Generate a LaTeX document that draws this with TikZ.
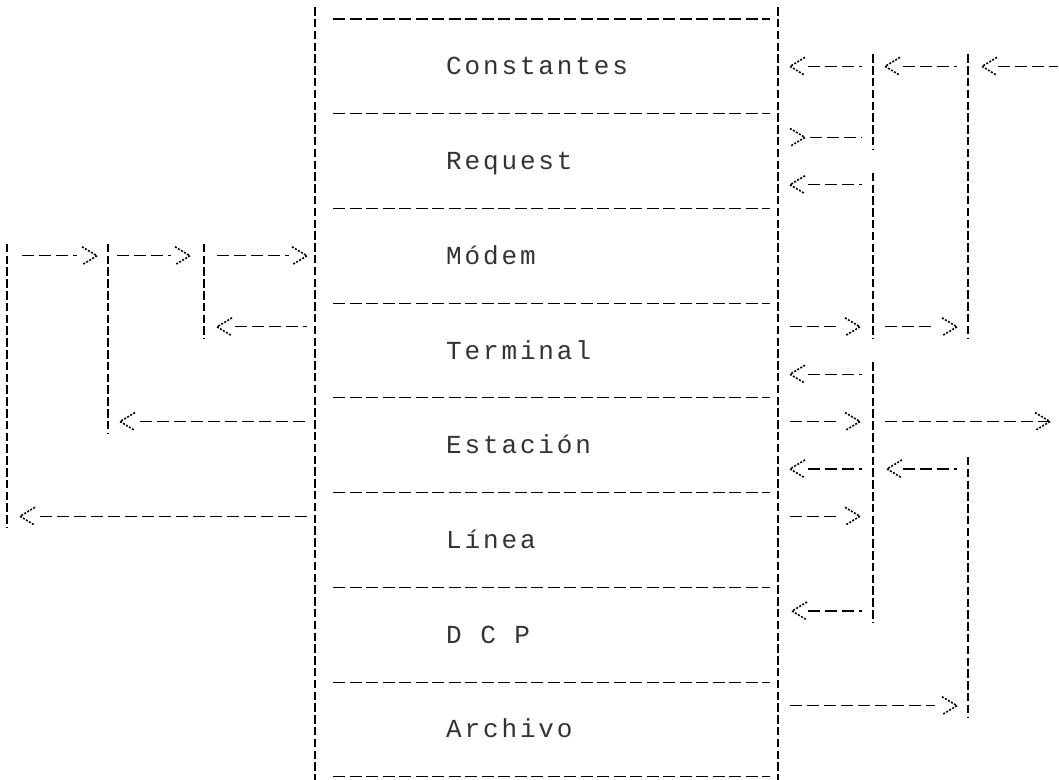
\documentclass[tikz,border=0pt]{standalone}
\usepackage{fontspec}
\newfontfamily\dotmatrix[LetterSpace=11]{Liberation Mono}
\begin{document}
\begin{tikzpicture}[x=1pt,y=-23.68pt,
  vline/.style={line width=1.7pt,dash pattern=on 8.5pt off 3.3pt},
  hsep/.style={line width=1.1pt,dash pattern=on 12pt off 4.5pt},
  shaft/.style={line width=1.3pt,dash pattern=on 12pt off 5pt},
  lshaft/.style={shaft,shorten <=30pt,shorten >=11pt},
  rshaft/.style={shaft,shorten <=12pt,shorten >=33pt},
  chevline/.style={line width=1.6pt,dash pattern=on 2pt off 1.5pt},
  lchev/.pic={\draw[chevline] (15pt,9pt) -- (0,0) -- (15pt,-9pt);},
  rchev/.pic={\draw[chevline] (-15pt,9pt) -- (0,0) -- (-15pt,-9pt);},
  lbl/.style={anchor=base west,inner sep=0pt,text=black!80,
    font=\dotmatrix\fontsize{26}{30}\selectfont}]
\useasboundingbox (0,-0.8024) rectangle (1059,32.095);

% named points on every column, one per printed line
\foreach \L in {0,...,32}{
  \coordinate (a-\L) at (7,\L);
  \coordinate (b-\L) at (108,\L);
  \coordinate (c-\L) at (204,\L);
  \coordinate (bl-\L) at (315,\L);
  \coordinate (br-\L) at (778,\L);
  \coordinate (c2-\L) at (873,\L);
  \coordinate (c3-\L) at (968,\L);
}
\coordinate (outA) at (1058,2);
\coordinate (outB) at (1083,17);

% main box
\draw[vline] (315,-0.5) -- (315,32.6);
\draw[vline] (778,-0.5) -- (778,32.6);
\foreach \k in {0,4,...,32}{
  \draw[hsep] (333,\k) -- (770,\k);
}

% labels
\node[lbl] (constantes) at (446,2.36)  {Constantes};
\node[lbl] (request)    at (446,6.36)  {Request};
\node[lbl] (modem)      at (446,10.36) {Módem};
\node[lbl] (terminal)   at (446,14.36) {Terminal};
\node[lbl] (estacion)   at (446,18.36) {Estación};
\node[lbl] (linea)      at (446,22.36) {Línea};
\node[lbl] (dcp)        at (446,26.36) {D C P};
\node[lbl] (archivo)    at (446,30.36) {Archivo};

% right-hand vertical rails
\draw[vline] ([yshift=12pt]c2-2) -- ([yshift=-12pt]c2-5);
\draw[vline] ([yshift=12pt]c2-7) -- ([yshift=-12pt]c2-13);
\draw[vline] ([yshift=12pt]c2-15) -- ([yshift=-12pt]c2-25);
\draw[vline] ([yshift=12pt]c3-2) -- ([yshift=-12pt]c3-13);
\draw[vline] ([yshift=12pt]c3-19) -- ([yshift=-12pt]c3-29);

% left-hand vertical rails
\draw[vline] ([yshift=12pt]a-10) -- ([yshift=-12pt]a-21);
\draw[vline] ([yshift=12pt]b-10) -- ([yshift=-12pt]b-17);
\draw[vline] ([yshift=12pt]c-10) -- ([yshift=-12pt]c-13);

% ---- right side connectors ----
% line 2
\draw[lshaft] (br-2) -- (c2-2);  \pic at ([xshift=12pt]br-2) {lchev};
\draw[lshaft] (c2-2) -- (c3-2);  \pic at ([xshift=12pt]c2-2) {lchev};
\draw[lshaft,shorten >=0pt] (c3-2) -- (outA); \pic at ([xshift=14pt]c3-2) {lchev};
% line 5  ( >--- )
\draw[shaft,shorten <=32pt,shorten >=11pt] (br-5) -- (c2-5);
\pic at ([xshift=27pt]br-5) {rchev};
% line 7
\draw[lshaft] (br-7) -- (c2-7);  \pic at ([xshift=12pt]br-7) {lchev};
% line 13
\draw[rshaft] (br-13) -- (c2-13); \pic at ([xshift=-13pt]c2-13) {rchev};
\draw[rshaft] (c2-13) -- (c3-13); \pic at ([xshift=-11pt]c3-13) {rchev};
% line 15
\draw[lshaft] (br-15) -- (c2-15); \pic at ([xshift=12pt]br-15) {lchev};
% line 17
\draw[rshaft] (br-17) -- (c2-17); \pic at ([xshift=-13pt]c2-17) {rchev};
\draw[rshaft] (c2-17) -- (outB);  \pic at ([xshift=-33pt]outB) {rchev};
% line 19
\draw[lshaft] (br-19) -- (c2-19); \pic at ([xshift=12pt]br-19) {lchev};
\draw[lshaft] (c2-19) -- (c3-19); \pic at ([xshift=14pt]c2-19) {lchev};
% line 21
\draw[rshaft] (br-21) -- (c2-21); \pic at ([xshift=-13pt]c2-21) {rchev};
% line 25
\draw[lshaft] (br-25) -- (c2-25); \pic at ([xshift=14pt]br-25) {lchev};
% line 29
\draw[rshaft] (br-29) -- (c3-29); \pic at ([xshift=-11pt]c3-29) {rchev};

% ---- left side connectors ----
% line 10
\draw[rshaft,shorten <=15pt,shorten >=31pt] (a-10) -- (b-10); \pic at ([xshift=-11pt]b-10) {rchev};
\draw[rshaft,shorten <=9pt,shorten >=33pt] (b-10) -- (c-10);  \pic at ([xshift=-14pt]c-10) {rchev};
\draw[rshaft,shorten <=13pt,shorten >=26pt] (c-10) -- (bl-10); \pic at ([xshift=-8pt]bl-10) {rchev};
% line 13
\draw[shaft,shorten <=31pt,shorten >=8pt] (c-13) -- (bl-13); \pic at ([xshift=13pt]c-13) {lchev};
% line 17
\draw[shaft,shorten <=32pt,shorten >=8pt] (b-17) -- (bl-17); \pic at ([xshift=12pt]b-17) {lchev};
% line 21
\draw[shaft,shorten <=33pt,shorten >=8pt] (a-21) -- (bl-21); \pic at ([xshift=13pt]a-21) {lchev};
\end{tikzpicture}
\end{document}
